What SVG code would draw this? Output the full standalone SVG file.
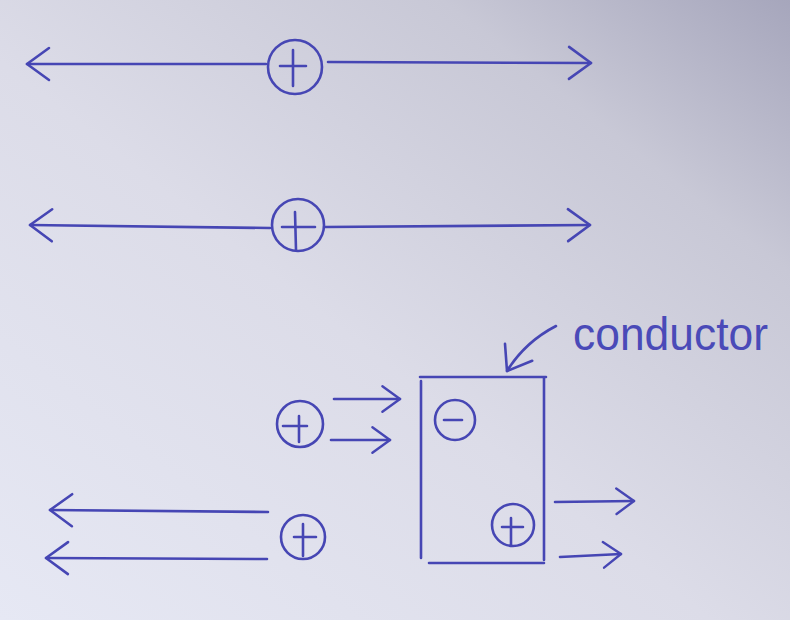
<svg xmlns="http://www.w3.org/2000/svg" width="790" height="620" viewBox="0 0 790 620">
  <defs>
    <linearGradient id="paper" x1="1" y1="0" x2="0" y2="1">
      <stop offset="0" stop-color="#a6a6bc"/>
      <stop offset="0.22" stop-color="#c8c8d6"/>
      <stop offset="0.55" stop-color="#dcdce8"/>
      <stop offset="1" stop-color="#e6e8f4"/>
    </linearGradient>
    <marker id="chev" viewBox="0 0 30 40" refX="27" refY="20" markerWidth="30" markerHeight="40" markerUnits="userSpaceOnUse" orient="auto">
      <path d="M5,4 L27,20 L5,36" fill="none" stroke="#4646b4" stroke-width="2.6" stroke-linecap="round" stroke-linejoin="round"/>
    </marker>
    <marker id="chevS" viewBox="0 0 30 40" refX="27" refY="20" markerWidth="24" markerHeight="32" markerUnits="userSpaceOnUse" orient="auto">
      <path d="M5,4 L27,20 L5,36" fill="none" stroke="#4646b4" stroke-width="3" stroke-linecap="round" stroke-linejoin="round"/>
    </marker>
  </defs>
  <style>
    .ink { fill: none; stroke: #4646b4; stroke-width: 2.6; stroke-linecap: round; stroke-linejoin: round; }
    .arrow { marker-end: url(#chev); }
    .arrowS { marker-end: url(#chevS); }
    .label { fill: #4a4ab8; font-family: "Liberation Sans", "DejaVu Sans", sans-serif; font-size: 46px; }
  </style>
  <rect width="790" height="620" fill="url(#paper)"/>

  <g id="connectors">
    <!-- row 1 -->
    <path class="ink arrow" d="M266,64 L27,64"/>
    <path class="ink arrow" d="M328,62 L591,63"/>
    <!-- row 2 -->
    <path class="ink arrow" d="M270,228 L30,225"/>
    <path class="ink arrow" d="M325,227 L590,225"/>
    <!-- toward conductor -->
    <path class="ink arrowS" d="M334,399 L400,399"/>
    <path class="ink arrowS" d="M331,440 L390,440"/>
    <!-- out of conductor -->
    <path class="ink arrowS" d="M555,502 L634,501"/>
    <path class="ink arrowS" d="M560,557 L621,554"/>
    <!-- bottom-left arrows -->
    <path class="ink arrow" d="M268,512 L50,510"/>
    <path class="ink arrow" d="M267,559 L46,558"/>
    <!-- label pointer -->
    <path class="ink arrow" d="M556,326 Q525,342 507,371"/>
  </g>

  <g id="charge1">
    <circle class="ink" cx="295" cy="67" r="27"/>
    <path class="ink" d="M280,66 L306,66 M293,50 L293,86"/>
  </g>
  <g id="charge2">
    <circle class="ink" cx="298" cy="225" r="26"/>
    <path class="ink" d="M282,227 L315,227 M295,212 L296,250"/>
  </g>
  <g id="charge3">
    <circle class="ink" cx="300" cy="424" r="23"/>
    <path class="ink" d="M283,426 L307,426 M299,416 L299,442"/>
  </g>
  <g id="charge4">
    <circle class="ink" cx="303" cy="537" r="22"/>
    <path class="ink" d="M294,537 L316,537 M303,524 L303,556"/>
  </g>
  <g id="conductor">
    <path class="ink" d="M420,377 L546,377 M421,381 L421,558 M544,378 L544,560 M429,563 L544,563"/>
  </g>
  <g id="charge-minus">
    <circle class="ink" cx="455" cy="420" r="20"/>
    <path class="ink" d="M444,420 L462,420"/>
  </g>
  <g id="charge-plus-in">
    <circle class="ink" cx="513" cy="525" r="21"/>
    <path class="ink" d="M502,527 L523,527 M511,518 L511,545"/>
  </g>
  <g id="label">
    <text class="label" x="573" y="350" textLength="195" lengthAdjust="spacingAndGlyphs">conductor</text>
  </g>
</svg>
